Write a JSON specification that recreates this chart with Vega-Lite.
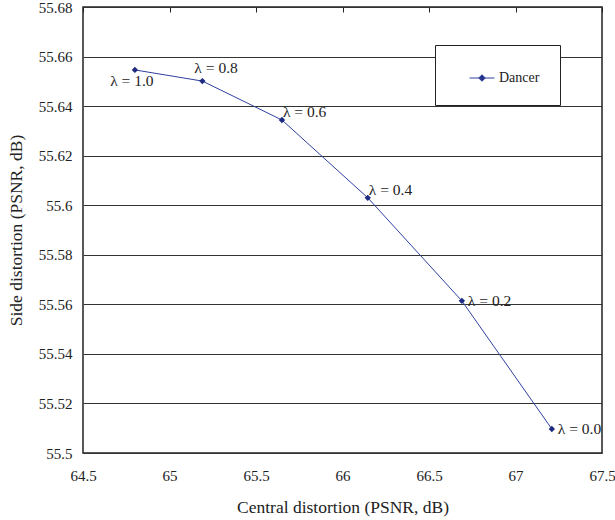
{
  "$schema": "https://vega.github.io/schema/vega-lite/v6.json",
  "autosize": "none",
  "width": 519,
  "height": 446,
  "padding": {"left": 83, "top": 7, "right": 13, "bottom": 67},
  "background": "white",
  "config": {
    "font": "Times New Roman, Liberation Serif, serif",
    "view": {"stroke": "#222", "strokeWidth": 1.5}
  },
  "data": {
    "values": [
      {"central": 64.80, "side": 55.6546, "lambda": 1.0, "label": "λ = 1.0", "series": "Dancer"},
      {"central": 65.19, "side": 55.6501, "lambda": 0.8, "label": "λ = 0.8", "series": "Dancer"},
      {"central": 65.65, "side": 55.6344, "lambda": 0.6, "label": "λ = 0.6", "series": "Dancer"},
      {"central": 66.146, "side": 55.6030, "lambda": 0.4, "label": "λ = 0.4", "series": "Dancer"},
      {"central": 66.69, "side": 55.5614, "lambda": 0.2, "label": "λ = 0.2", "series": "Dancer"},
      {"central": 67.21, "side": 55.5097, "lambda": 0.0, "label": "λ = 0.0", "series": "Dancer"}
    ]
  },
  "encoding": {
    "x": {
      "field": "central", "type": "quantitative",
      "scale": {"domain": [64.5, 67.5], "nice": false, "zero": false},
      "axis": {"title": "Central distortion (PSNR, dB)", "values": [64.5, 65, 65.5, 66, 66.5, 67, 67.5], "format": "~g",
        "grid": true, "gridDash": [5, 1000], "gridColor": "#222", "gridOpacity": 1, "gridWidth": 1,
        "domain": false, "ticks": false, "labelPadding": 15, "titlePadding": 15, "labelFlush": false,
        "labelFont": "Times New Roman, Liberation Serif, serif", "labelFontSize": 15, "labelColor": "#222",
        "titleFont": "Times New Roman, Liberation Serif, serif", "titleFontSize": 17.5, "titleFontWeight": "normal", "titleColor": "#222"}
    },
    "y": {
      "field": "side", "type": "quantitative",
      "scale": {"domain": [55.5, 55.68], "nice": false, "zero": false},
      "axis": {"title": "Side distortion (PSNR, dB)", "values": [55.5, 55.52, 55.54, 55.56, 55.58, 55.6, 55.62, 55.64, 55.66, 55.68], "format": "~g", "grid": true, "gridColor": "#333", "gridOpacity": 1, "gridWidth": 1, "domain": false, "ticks": false, "labelPadding": 11, "titlePadding": 13, "labelFlush": false,
        "labelFont": "Times New Roman, Liberation Serif, serif", "labelFontSize": 15, "labelColor": "#222",
        "titleFont": "Times New Roman, Liberation Serif, serif", "titleFontSize": 17.5, "titleFontWeight": "normal", "titleColor": "#222"}
    }
  },
  "layer": [
    {
      "mark": {"type": "line", "strokeWidth": 1},
      "encoding": {
        "color": {
          "field": "series", "type": "nominal",
          "scale": {"range": ["#3040a0"]},
          "legend": {
            "title": null, "orient": "none", "legendX": 352, "legendY": 38,
            "fillColor": "white", "strokeColor": "#222", "padding": 20,
            "symbolType": "M-1,0H1M0,-0.26L0.26,0L0,0.26L-0.26,0Z",
            "symbolSize": 625, "symbolStrokeWidth": 1, "symbolOffset": 14,
            "labelFont": "Times New Roman, Liberation Serif, serif", "labelFontSize": 14, "labelColor": "#222", "labelOffset": 4,
            "labelExpr": "datum.label + '           '",
            "encode": {"symbols": {"update": {"fill": {"value": "#1e2a80"}, "stroke": {"value": "#3040a0"}, "opacity": {"value": 1}}}}
          }
        }
      }
    },
    {
      "mark": {"type": "point", "shape": "diamond", "filled": true, "size": 40, "color": "#1e2a80", "opacity": 1}
    },
    {
      "transform": [{"filter": "datum.lambda == 1.0"}],
      "mark": {"type": "text", "align": "center", "baseline": "middle", "dx": -3, "dy": 11, "fontSize": 15.5, "font": "Times New Roman, Liberation Serif, serif", "color": "#222"},
      "encoding": {"text": {"field": "label"}}
    },
    {
      "transform": [{"filter": "datum.lambda == 0.8"}],
      "mark": {"type": "text", "align": "left", "baseline": "middle", "dx": -8, "dy": -13, "fontSize": 15.5, "font": "Times New Roman, Liberation Serif, serif", "color": "#222"},
      "encoding": {"text": {"field": "label"}}
    },
    {
      "transform": [{"filter": "datum.lambda == 0.6 || datum.lambda == 0.4"}],
      "mark": {"type": "text", "align": "left", "baseline": "middle", "dx": 1, "dy": -8, "fontSize": 15.5, "font": "Times New Roman, Liberation Serif, serif", "color": "#222"},
      "encoding": {"text": {"field": "label"}}
    },
    {
      "transform": [{"filter": "datum.lambda == 0.2 || datum.lambda == 0.0"}],
      "mark": {"type": "text", "align": "left", "baseline": "middle", "dx": 6, "dy": 0, "fontSize": 15.5, "font": "Times New Roman, Liberation Serif, serif", "color": "#222"},
      "encoding": {"text": {"field": "label"}}
    }
  ]
}
